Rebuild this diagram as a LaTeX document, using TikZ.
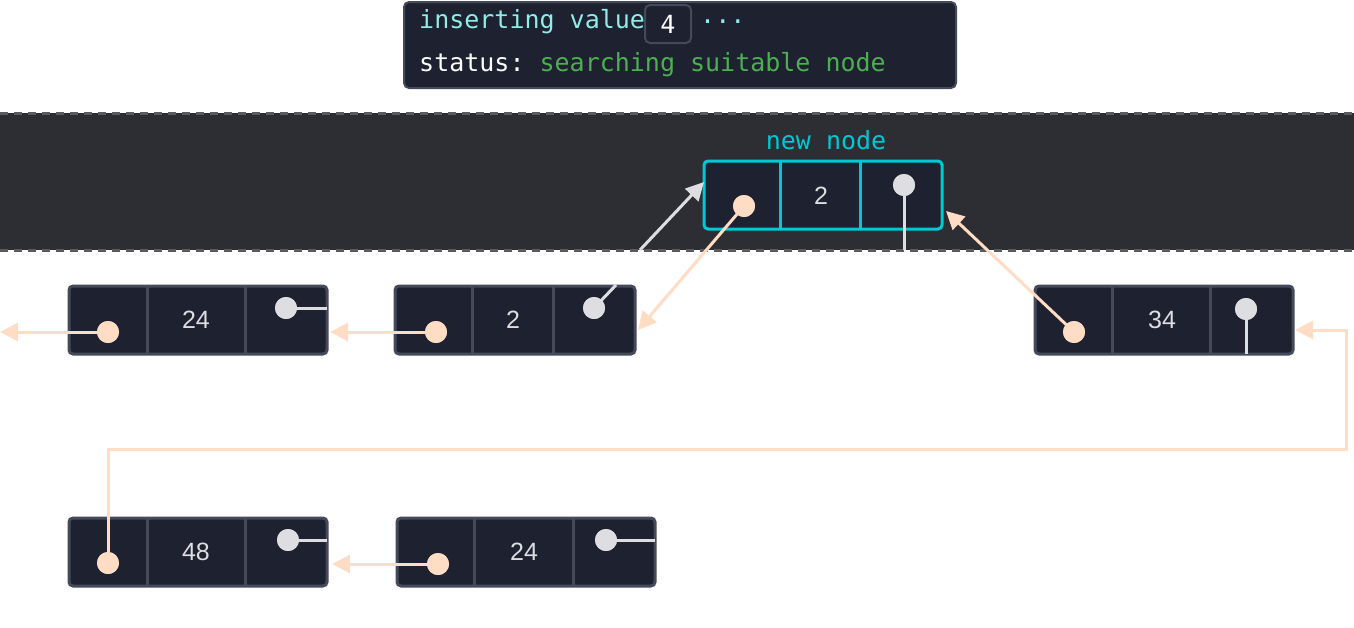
\documentclass[tikz,border=0pt]{standalone}
\usepackage{fontspec}
\setmainfont{Liberation Sans}
\setmonofont{DejaVu Sans Mono}
\usetikzlibrary{arrows.meta}
\definecolor{nfill}{HTML}{1D2130}
\definecolor{nborder}{HTML}{454A5A}
\definecolor{band}{HTML}{2D2E33}
\definecolor{bandline}{HTML}{5A5B60}
\definecolor{peach}{HTML}{FFDCC4}
\definecolor{grayd}{HTML}{DEDEE2}
\definecolor{cyanb}{HTML}{00C8D4}
\definecolor{cyant}{HTML}{8EEDE6}
\definecolor{greent}{HTML}{4CAF50}
\begin{document}
\begin{tikzpicture}[x=1pt,y=-1pt,
  cell/.style={draw=nborder,line width=3pt,fill=nfill,rounded corners=4pt},
  num/.style={text=grayd,font=\fontsize{25}{25}\selectfont},
  pdot/.style={circle,fill=peach,minimum size=22pt,inner sep=0pt},
  gdot/.style={circle,fill=grayd,minimum size=22pt,inner sep=0pt},
  parr/.style={draw=peach,line width=3pt,-{Triangle[length=18pt,width=18pt]}},
  garr/.style={draw=grayd,line width=3pt,-{Triangle[length=18pt,width=18pt]}},
  pl/.style={draw=peach,line width=3pt},
  gl/.style={draw=grayd,line width=3pt},
  mono/.style={font=\ttfamily\fontsize{25}{25}\selectfont}]
\useasboundingbox (0,0) rectangle (1354,627);
% status box
\node[cell,fill=nfill,minimum width=552pt,minimum height=86pt,anchor=north west,rounded corners=5pt,line width=2pt] (status) at (403,1) {};
\node[mono,text=cyant,anchor=west,inner sep=0pt] (ins) at (419,22) {inserting value};
\node[draw=nborder,line width=2pt,fill=nfill,rounded corners=5pt,minimum width=46pt,minimum height=38pt,mono,text=white] (val) at (668,24) {4};
\node[mono,text=cyant,anchor=west,inner sep=0pt] (dots) at (700,22) {...};
\node[mono,anchor=west,inner sep=0pt] (st) at (419,65) {\textcolor{white}{status:} \textcolor{greent}{searching suitable node}};
% band
\fill[band] (0,113) rectangle (1354,250);
\draw[bandline,line width=3pt,dash pattern=on 8pt off 6pt] (0,113) -- (1354,113) (0,250) -- (1354,250);
\node[mono,text=cyanb] (nnl) at (826,140) {new node};
% nodes
\newcommand{\llnode}[6]{%
 \draw[cell,#6] (#1,#2) rectangle (#3,#2+68);
 \draw[#6,line width=3pt] (#4,#2) -- (#4,#2+68) (#5,#2) -- (#5,#2+68);}
\llnode{69}{286}{327}{147}{245}{draw=nborder}
\node[num] (a) at (196,320) {24};
\llnode{395}{286}{635}{472}{553}{draw=nborder}
\node[num] (b) at (513,320) {2};
\llnode{1035}{286}{1293}{1112}{1210}{draw=nborder}
\node[num] (c) at (1162,320) {34};
\llnode{69}{518}{327}{147}{245}{draw=nborder}
\node[num] (d) at (196,552) {48};
\llnode{397}{518}{655}{474}{573}{draw=nborder}
\node[num] (e) at (524,552) {24};
\llnode{704}{161}{942}{780}{860}{draw=cyanb}
\node[num] (n) at (821,196) {2};
% coordinates
\coordinate (aEnd) at (0,332);
\coordinate (bL) at (330,332);
\coordinate (aR) at (327,308);
\coordinate (bStub) at (616,285);
\coordinate (gs) at (640,250);
\coordinate (nL) at (704,182);
\coordinate (bR) at (638,330);
\coordinate (nR) at (946,211);
\coordinate (nDown) at (904,250);
\coordinate (cDown) at (1246,354);
\coordinate (c1) at (108,449);
\coordinate (c2) at (1346,449);
\coordinate (c3) at (1346,330);
\coordinate (cR) at (1295,330);
\coordinate (dR) at (327,540);
\coordinate (dL) at (332,564);
\coordinate (eR) at (655,540);
% connectors
\node[pdot] (ap) at (108,332) {};
\node[pdot] (bp) at (436,332) {};
\node[pdot] (np) at (744,206) {};
\node[pdot] (cp) at (1074,332) {};
\node[pdot] (dp) at (108,563) {};
\node[pdot] (ep) at (438,564) {};
\node[gdot] (ag) at (286,308) {};
\node[gdot] (bg) at (594,308) {};
\node[gdot] (ng) at (904,185) {};
\node[gdot] (cg) at (1246,309) {};
\node[gdot] (dg) at (288,540) {};
\node[gdot] (eg) at (606,540) {};
\draw[parr] (ap.center) -- (aEnd);
\draw[parr] (bp.center) -- (bL);
\draw[gl] (ag.center) -- (aR);
\draw[gl] (bg.center) -- (bStub);
\draw[garr] (gs) -- (nL);
\draw[parr] (np.center) -- (bR);
\draw[parr] (cp.center) -- (nR);
\draw[gl] (ng.center) -- (nDown);
\draw[gl] (cg.center) -- (cDown);
\draw[parr] (dp.center) -- (c1) -- (c2) -- (c3) -- (cR);
\draw[parr] (ep.center) -- (dL);
\draw[gl] (dg.center) -- (dR);
\draw[gl] (eg.center) -- (eR);
% redraw dots on top
\foreach \p in {ap,bp,np,cp,dp,ep}{\fill[peach] (\p) circle (11pt);}
\foreach \p in {ag,bg,ng,cg,dg,eg}{\fill[grayd] (\p) circle (11pt);}
\end{tikzpicture}
\end{document}
